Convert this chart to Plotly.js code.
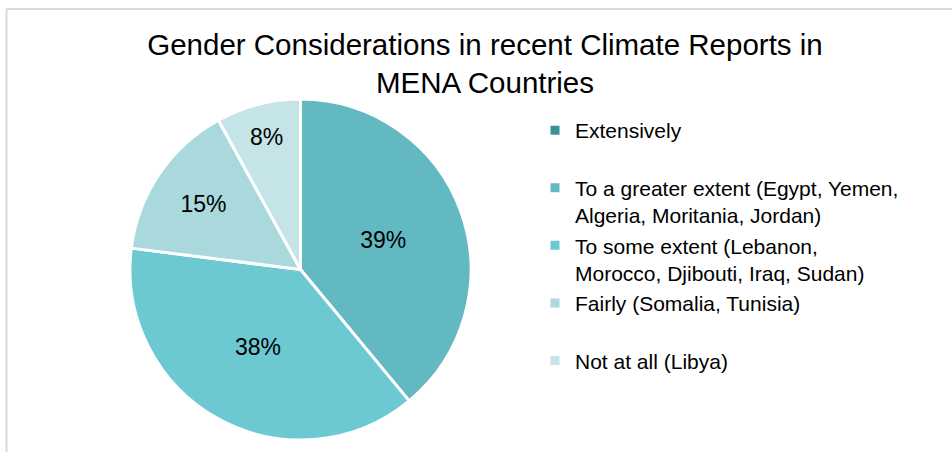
<!DOCTYPE html>
<html>
<head>
<meta charset="utf-8">
<script src="https://cdn.plot.ly/plotly-3.0.1.min.js"></script>
<style>
html,body{margin:0;padding:0;background:#fff;}
#chart{width:952px;height:452px;}
</style>
</head>
<body>
<div id="chart"></div>
<script>
// Data
const categories = [
  "Extensively<br> ",
  "To a greater extent (Egypt, Yemen,<br>Algeria, Moritania, Jordan)",
  "To some extent (Lebanon,<br>Morocco, Djibouti, Iraq, Sudan)",
  "Fairly (Somalia, Tunisia)<br> ",
  "Not at all (Libya)"
];
const shares = [0, 39, 38, 15, 8];
const sliceColors = ["#3b9199", "#63b9c1", "#6cc8d1", "#a9d9dd", "#c5e4e7"];
const chartTitle = "Gender Considerations in recent Climate Reports in<br>MENA Countries";

const W = 952, H = 452;
const px = v => v / W, py = v => 1 - v / H;

const trace = {
  type: "pie",
  labels: categories,
  values: shares,
  sort: false,
  direction: "clockwise",
  rotation: 0,
  textinfo: "percent",
  textposition: "inside",
  insidetextorientation: "horizontal",
  textfont: {family: "Liberation Sans, Arial, sans-serif", size: 23, color: "#000"},
  marker: {colors: sliceColors, line: {color: "#ffffff", width: 3}},
  domain: {x: [px(129), px(472)], y: [py(440), py(99)]},
  hoverinfo: "label+percent"
};

const layout = {
  width: W, height: H,
  margin: {l: 0, r: 0, t: 0, b: 0},
  paper_bgcolor: "#ffffff",
  font: {family: "Liberation Sans, Arial, sans-serif", color: "#000"},
  title: {
    text: chartTitle,
    font: {family: "Liberation Sans, Arial, sans-serif", size: 29.5, color: "#000"},
    x: px(485), xanchor: "center",
    y: py(55), yanchor: "top", yref: "container"
  },
  showlegend: true,
  legend: {
    x: px(535), xanchor: "left",
    y: py(110), yanchor: "top",
    valign: "top",
    font: {family: "Liberation Sans, Arial, sans-serif", size: 21, color: "#000"},
    itemwidth: 30,
    bgcolor: "rgba(0,0,0,0)"
  },
  shapes: [
    {type: "line", xref: "paper", yref: "paper", x0: px(6), x1: 1.01, y0: py(9), y1: py(9), line: {color: "#d9d9d9", width: 2}},
    {type: "line", xref: "paper", yref: "paper", x0: px(6.5), x1: px(6.5), y0: py(9), y1: -0.01, line: {color: "#d9d9d9", width: 2}}
  ]
};

Plotly.newPlot("chart", [trace], layout, {staticPlot: true, displayModeBar: false});
</script>
</body>
</html>
